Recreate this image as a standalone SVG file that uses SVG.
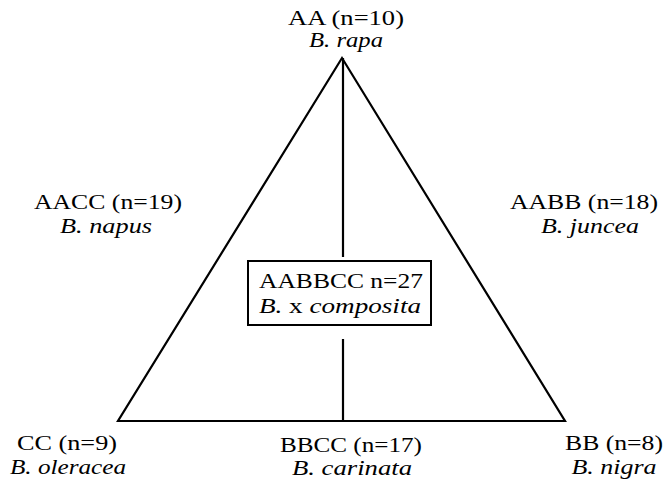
<svg xmlns="http://www.w3.org/2000/svg" width="667" height="479" viewBox="0 0 667 479">
<style>
.t{font-family:"Liberation Serif","Times New Roman",serif;font-size:21px;fill:#000;text-anchor:middle}
.i{font-style:italic}
.ln{fill:none;stroke:#000;stroke-width:2.2}
</style>
<rect width="667" height="479" fill="#fff"/>
<g id="connectors">
<path class="ln" d="M342,58 L118,421 L565,421 Z" stroke-linejoin="miter"/>
<line class="ln" x1="343" y1="58" x2="343" y2="257"/>
<line class="ln" x1="343" y1="339" x2="343" y2="421"/>
</g>
<g id="node-AA">
<text class="t" x="346" y="25" textLength="116" lengthAdjust="spacingAndGlyphs">AA (n=10)</text>
<text class="t i" x="346" y="47" textLength="74" lengthAdjust="spacingAndGlyphs">B. rapa</text>
</g>
<g id="node-AACC">
<text class="t" x="108" y="209" textLength="148" lengthAdjust="spacingAndGlyphs">AACC (n=19)</text>
<text class="t i" x="106" y="233" textLength="92" lengthAdjust="spacingAndGlyphs">B. napus</text>
</g>
<g id="node-AABB">
<text class="t" x="584" y="209" textLength="148" lengthAdjust="spacingAndGlyphs">AABB (n=18)</text>
<text class="t i" x="590" y="233" textLength="98" lengthAdjust="spacingAndGlyphs">B. juncea</text>
</g>
<g id="node-AABBCC">
<rect x="248" y="261" width="183" height="64" fill="#fff" stroke="#000" stroke-width="2"/>
<text class="t" x="341" y="288" textLength="164" lengthAdjust="spacingAndGlyphs">AABBCC n=27</text>
<text class="t" x="340" y="313" textLength="162" lengthAdjust="spacingAndGlyphs"><tspan class="i">B.</tspan> x <tspan class="i">composita</tspan></text>
</g>
<g id="node-CC">
<text class="t" x="67" y="450" textLength="100" lengthAdjust="spacingAndGlyphs">CC (n=9)</text>
<text class="t i" x="68" y="474" textLength="116" lengthAdjust="spacingAndGlyphs">B. oleracea</text>
</g>
<g id="node-BBCC">
<text class="t" x="351" y="452" textLength="142" lengthAdjust="spacingAndGlyphs">BBCC (n=17)</text>
<text class="t i" x="352" y="475" textLength="120" lengthAdjust="spacingAndGlyphs">B. carinata</text>
</g>
<g id="node-BB">
<text class="t" x="614" y="450" textLength="98" lengthAdjust="spacingAndGlyphs">BB (n=8)</text>
<text class="t i" x="614" y="474" textLength="85" lengthAdjust="spacingAndGlyphs">B. nigra</text>
</g>
</svg>
